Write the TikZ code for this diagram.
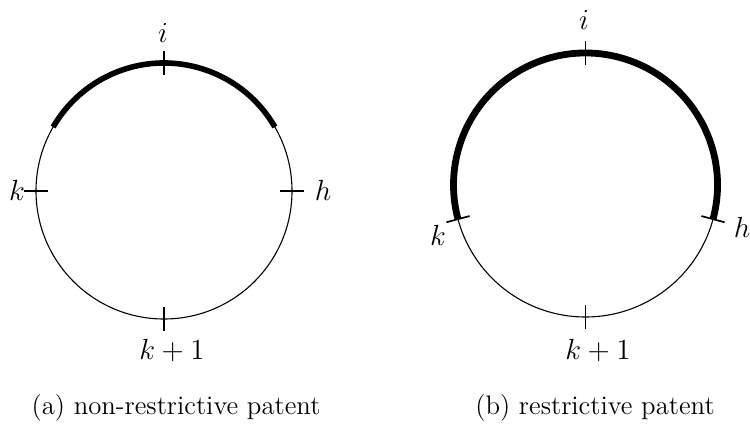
\documentclass[tikz,border=0pt]{standalone}
\usetikzlibrary{calc}
\begin{document}
\begin{tikzpicture}[x=0.4115pt,y=0.4115pt,
  thin circle/.style={line width=0.45pt},
  patent/.style={line width=2.3pt},
  ticker/.style={line width=0.7pt},
  lab/.style={inner sep=0pt,font=\fontsize{12.3}{14}\selectfont},
  captext/.style={inner sep=0pt,font=\fontsize{11}{13}\selectfont}]
\useasboundingbox (0,-425) rectangle (750,0);
% left
\coordinate (L) at (164,-191);
\draw[thin circle] (L) circle[radius=128];
\draw[patent] ([shift={(30:128)}]L) arc[start angle=30,end angle=150,radius=128];
\foreach \a in {0,90,180,270}{
  \draw[ticker] ([shift={(\a:116)}]L) -- ([shift={(\a:140)}]L);
}
\node[lab] (Li) at (163,-33) {$i$};
\node[lab] (Lk) at (17,-190) {$k$};
\node[lab] (Lh) at (323,-190) {$h$};
\node[lab] (Lk1) at (172,-350) {$k+1$};
\node[captext] (Lcap) at (176,-408) {(a) non-restrictive patent};
% right
\coordinate (R) at (585.5,-185);
\draw[thin circle] (R) circle[radius=132];
\draw[patent,line width=2.8pt] ([shift={(-15:132)}]R) arc[start angle=-15,end angle=195,radius=132];
\foreach \a in {-15,90,195,270}{
  \draw[ticker] ([shift={(\a:120)}]R) -- ([shift={(\a:144)}]R);
}
\node[lab] (Ri) at (584,-20) {$i$};
\node[lab] (Rk) at (438,-235) {$k$};
\node[lab] (Rh) at (742,-227) {$h$};
\node[lab] (Rk1) at (598,-350) {$k+1$};
\node[captext] (Rcap) at (595,-408) {(b) restrictive patent};
\end{tikzpicture}
\end{document}
